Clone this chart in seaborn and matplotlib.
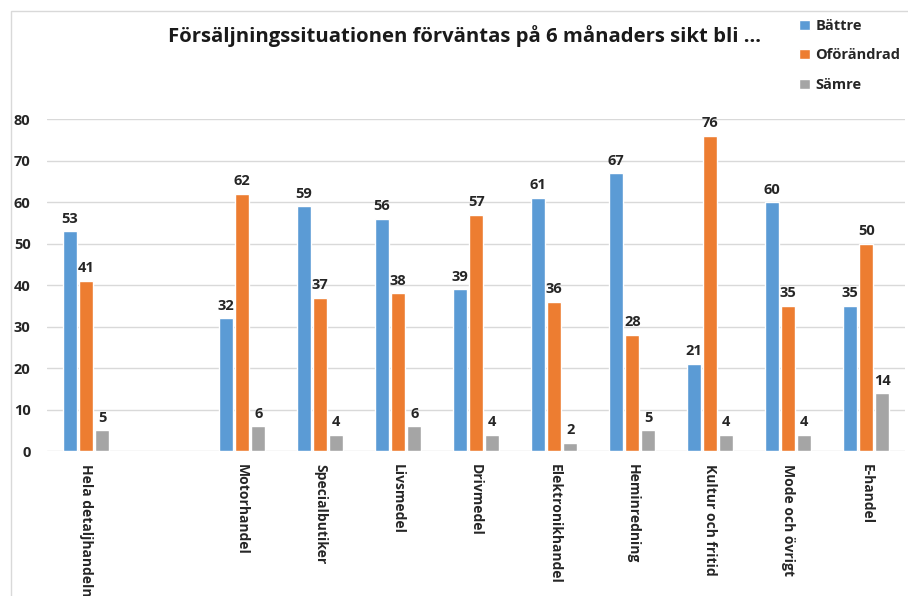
# -*- encoding utf-8 -*-
# Försäljningssituationen - grouped bar chart

# %% libraries
import matplotlib
matplotlib.use('Agg')
import matplotlib.pyplot as plt
from matplotlib.patches import Rectangle
import seaborn as sns
import pandas as pd

# %% data
categories = ['Hela detaljhandeln', ' ', 'Motorhandel', 'Specialbutiker',
              'Livsmedel', 'Drivmedel', 'Elektronikhandel', 'Heminredning',
              'Kultur och fritid', 'Mode och övrigt', 'E-handel']
series = ['Bättre', 'Oförändrad', 'Sämre']
battre = [53, None, 32, 59, 56, 39, 61, 67, 21, 60, 35]
oforandrad = [41, None, 62, 37, 38, 57, 36, 28, 76, 35, 50]
samre = [5, None, 6, 4, 6, 4, 2, 5, 4, 4, 14]
colors = ['#5B9BD5', '#ED7D31', '#A5A5A5']

rows = []
for s, vals in zip(series, [battre, oforandrad, samre]):
    for c, v in zip(categories, vals):
        if v is not None:
            rows.append({'cat': c, 'serie': s, 'value': v})
df = pd.DataFrame(rows)

# %% plot
sns.set_style('white')
plt.rcParams['font.family'] = ['Open Sans', 'DejaVu Sans']

fig = plt.figure(figsize=(9.08, 5.96), dpi=100)
ax = fig.add_axes([0.052, 0.243, 0.945, 0.557])

sns.barplot(data=df, x='cat', y='value', hue='serie', order=categories,
            hue_order=series, palette=colors, width=0.62, gap=0.13,
            saturation=1, ax=ax, legend=True)

for cont in ax.containers:
    ax.bar_label(cont, fontsize=10.5, fontweight='bold', padding=4,
                 color='#262626')

ax.set_ylim(0, 80)
ax.set_yticks(range(0, 81, 10))
ax.set_xlim(-0.5, len(categories) - 0.5)
ax.yaxis.grid(True, color='#D9D9D9', linewidth=1)
ax.set_axisbelow(True)
sns.despine(ax=ax, left=True, bottom=True, top=True, right=True)
ax.set_xlabel('')
ax.set_ylabel('')
ax.tick_params(axis='both', length=0)
ax.tick_params(axis='y', pad=12, labelsize=10.5, labelcolor='#262626')
ax.tick_params(axis='x', pad=9, labelsize=10, labelcolor='#262626')
for lbl in ax.get_yticklabels():
    lbl.set_fontweight('bold')
for lbl in ax.get_xticklabels():
    lbl.set_fontweight('bold')
    lbl.set_rotation(270)
    lbl.set_va('top')
    lbl.set_ha('center')

# legend
leg = ax.legend(loc='upper left', bbox_to_anchor=(0.866, 0.99),
                bbox_transform=fig.transFigure, frameon=False,
                handlelength=0.7, handleheight=0.7, handletextpad=0.4,
                labelspacing=1.05, prop={'weight': 'bold', 'size': 10.5})
for t in leg.get_texts():
    t.set_color('#262626')

# title
fig.text(0.512, 0.94, 'Försäljningssituationen förväntas på 6 månaders sikt bli ...',
         ha='center', va='center', fontsize=14.6, fontweight='bold',
         color='#1a1a1a')

# chart border
fig.patches.append(Rectangle((11 / 908, -0.1), 1.2, 1.1 - 11 / 596,
                             transform=fig.transFigure, fill=False,
                             edgecolor='#D9D9D9', linewidth=1))

fig.savefig('out.png', dpi=100)
